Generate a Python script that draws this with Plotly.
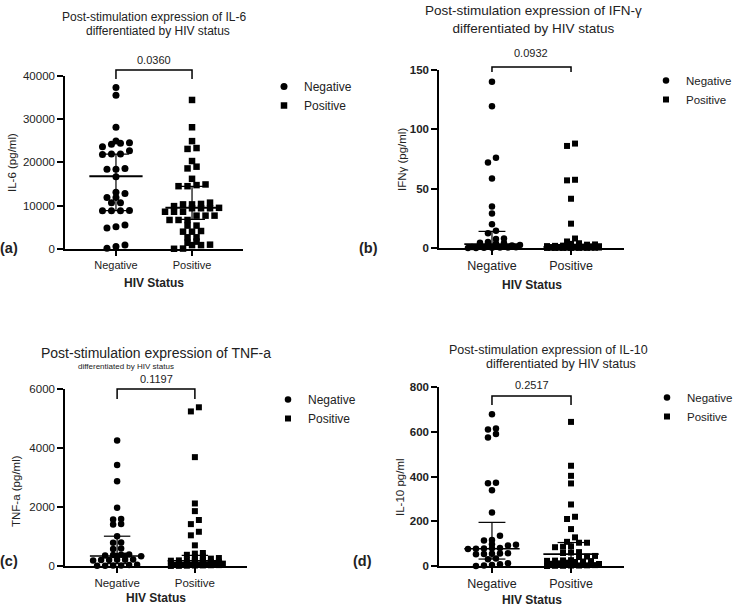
import numpy as np
import plotly.graph_objects as go

W, H = 734, 606
FONT = "Arial, Liberation Sans, sans-serif"

categories = ["Negative", "Positive"]

# values (pg/ml)
il6_neg = [37300, 35500, 28100, 24900, 24500, 24400, 24200, 23600, 22700, 21900, 21900, 21800,
           18600, 18400, 18400, 16700, 13100, 12800, 11900, 11900, 10700, 10700, 8900, 8850,
           8850, 8800, 5550, 5150, 4850, 900, 550, 150]
il6_pos = [34400, 28100, 24900, 23300, 23100, 20300, 19000, 18600, 16200, 14900, 14750, 14500,
           14500, 10700, 10400, 10300, 10300, 9900, 9500, 9400, 9400, 9400, 8600, 8600, 8600,
           7700, 7700, 7700, 6700, 6700, 6700, 5400, 5400, 4150, 4000, 4000, 2700, 2700, 1700,
           1450, 1000, 900, 900, 100, 50]
ifng_neg = [140, 119.5, 76, 72, 58.5, 35, 29, 20, 14.5, 12.5, 8, 7.5, 5, 4.5, 4.2, 3.8, 3.5, 3,
            2.6, 2.2, 1.8, 1.5, 1.2, 1, 0.8, 0.6, 0.5, 0.4, 0.3, 0.2, 0.1, 0.1]
ifng_pos = [88, 86, 57.5, 57, 41.5, 20.5, 8, 5.5, 4, 3.5, 3, 2.8, 2.5, 2.2, 2, 1.8, 1.6, 1.5, 1.4,
            1.2, 1.1, 1, 0.9, 0.8, 0.8, 0.7, 0.6, 0.6, 0.5, 0.5, 0.4, 0.4, 0.3, 0.3, 0.3, 0.2,
            0.2, 0.2, 0.2, 0.1, 0.1, 0.1, 0.1, 0.1, 0.1]
tnf_neg = [4250, 3420, 2870, 1975, 1590, 1580, 1420, 1410, 1010, 800, 790, 590, 580, 390, 380,
           370, 360, 350, 340, 330, 220, 210, 210, 200, 200, 190, 40, 30, 20, 15, 10, 5]
tnf_pos = [5380, 5240, 3690, 2120, 1860, 1560, 1420, 1160, 1040, 700, 440, 420, 380, 330, 300,
           270, 250, 230, 210, 200, 190, 180, 170, 160, 150, 140, 130, 120, 110, 100, 90, 80, 70,
           60, 50, 45, 40, 35, 30, 25, 20, 15, 10, 5, 2]
il10_neg = [678, 614, 610, 590, 574, 372, 370, 339, 239, 135, 116, 114, 97, 95, 92, 80, 79, 78,
            77, 76, 57, 56, 55, 54, 53, 34, 30, 12, 8, 5, 2, 0]
il10_pos = [644, 448, 403, 369, 275, 220, 210, 165, 128, 108, 104, 104, 88, 86, 84, 62, 60, 58,
            45, 42, 40, 26, 25, 24, 23, 22, 20, 18, 15, 12, 10, 9, 8, 8, 7, 6, 5, 4, 4, 3, 2, 2,
            1, 1, 0]

# median, Q1, Q3 as drawn
il6_stats = [(16800, 8850, 21900), (9500, 6850, 14450)]
ifng_stats = [(3.3, 0.4, 14), (0.8, 0.2, 2.5)]
tnf_stats = [(340, 80, 1010), (180, 60, 360)]
il10_stats = [(77, 31, 195), (53, 12, 105)]

p_values = ["0.0360", "0.0932", "0.1197", "0.2517"]
y_ticks = [[0, 10000, 20000, 30000, 40000], [0, 50, 100, 150], [0, 2000, 4000, 6000],
           [0, 200, 400, 600, 800]]
y_titles = ["IL-6 (pg/ml)", "IFNγ (pg/ml)", "TNF-a (pg/ml)", "IL-10 pg/ml"]
titles = [("Post-stimulation expression of IL-6", "differentiated by HIV status"),
          ("Post-stimulation expression of IFN-γ", "differentiated by HIV status"),
          ("Post-stimulation expression of TNF-a", "differentiated by HIV status"),
          ("Post-stimulation expression of IL-10", "differentiated by HIV status")]
labels = ["(a)", "(b)", "(c)", "(d)"]


def fx(px):
    return px / W


def fy(py):
    return 1 - py / H


# pixel layout of each panel (t2=None -> both title lines in one text)
panels = [
    dict(neg=il6_neg, pos=il6_pos, stats=il6_stats, xl=65, xr=243, yb=249, yt=75.7,
         br=(70, 79), pv=(154, 60), t1=(154, 17, 12), t2=(158, 31, 12), yt_pos=(12, 163),
         hiv=(154, 283), lab=(9, 248), leg=(264, 72, 12), bold=False, xfs=11, ms=7, sp=9),
    dict(neg=ifng_neg, pos=ifng_pos, stats=ifng_stats, xl=439, xr=624, yb=248, yt=70,
         br=(67, 72), pv=(531, 53), t1=(533, 19.5, 13.5), t2=None, yt_pos=(402, 160),
         hiv=(532, 285), lab=(368, 248), leg=(646, 66, 11.5), bold=True, xfs=12.5, ms=6.5, sp=8),
    dict(neg=tnf_neg, pos=tnf_pos, stats=tnf_stats, xl=65, xr=247, yb=566, yt=389,
         br=(389, 399), pv=(156, 379), t1=(156, 353, 14), t2=(126, 366, 8), yt_pos=(16, 491),
         hiv=(156, 598), lab=(9, 561), leg=(268, 385, 12), bold=False, xfs=11.5, ms=6.5, sp=8),
    dict(neg=il10_neg, pos=il10_pos, stats=il10_stats, xl=439, xr=624, yb=566, yt=387,
         br=(396, 405), pv=(532, 385), t1=(548, 350, 12.5), t2=(561, 364, 12.5), yt_pos=(400, 487),
         hiv=(532, 600), lab=(362, 561), leg=(647, 383, 11.5), bold=True, xfs=12.5, ms=6.5, sp=8),
]

XR = [-0.67, 1.67]


def swarm(values, ppu_y, ppu_x, spacing, row_px=5, max_row=7):
    vals = np.asarray(values, dtype=float)
    order = np.argsort(vals, kind="stable")
    rows, cur, start = [], [], None
    for i in order:
        yp = vals[i] * ppu_y
        if cur and yp - start < row_px:
            cur.append(i)
        else:
            if cur:
                rows.append(cur)
            cur, start = [i], yp
    rows.append(cur)
    off = np.zeros(len(vals))
    for row in rows:
        chunks = [row[k:k + max_row] for k in range(0, len(row), max_row)]
        for ci, ch in enumerate(chunks):
            n = len(ch)
            shift = 0.5 if (ci % 2 == 1 and n > 1) else 0
            for j, idx in enumerate(ch):
                off[idx] = (j - (n - 1) / 2 + shift) * spacing / ppu_x
    return off


fig = go.Figure()
annotations, shapes = [], []
layout = {}

for i, p in enumerate(panels):
    n = i + 1
    sx = "" if n == 1 else str(n)
    xa, ya = "x" + sx, "y" + sx
    legend_id = "legend" + sx
    ymax = y_ticks[i][-1]
    ppu_y = (p["yb"] - p["yt"]) / ymax
    ppu_x = (p["xr"] - p["xl"]) / (XR[1] - XR[0])
    tick_text = [f"<b>{v}</b>" if p["bold"] else str(v) for v in y_ticks[i]]

    for g, (vals, sym, name) in enumerate([(p["neg"], "circle", "Negative"),
                                           (p["pos"], "square", "Positive")]):
        off = swarm(vals, ppu_y, ppu_x, p["sp"])
        fig.add_trace(go.Scatter(
            x=g + off, y=vals, mode="markers", name=name, xaxis=xa, yaxis=ya,
            marker=dict(symbol=sym, size=p["ms"] if sym == "circle" else p["ms"] - 0.5,
                        color="black", line=dict(width=0)),
            cliponaxis=False, legend=legend_id, showlegend=True, hoverinfo="skip"))
        med, q1, q3 = p["stats"][g]
        fig.add_trace(go.Scatter(
            x=[g, g, None, g - 0.17, g + 0.17, None, g - 0.17, g + 0.17],
            y=[q1, q3, None, q1, q1, None, q3, q3], mode="lines",
            line=dict(color="black", width=1.2), xaxis=xa, yaxis=ya, showlegend=False,
            hoverinfo="skip", cliponaxis=False))
        fig.add_trace(go.Scatter(
            x=[g - 0.35, g + 0.35], y=[med, med], mode="lines",
            line=dict(color="black", width=2 if n == 1 else 1.6), xaxis=xa, yaxis=ya,
            showlegend=False, hoverinfo="skip", cliponaxis=False))

    layout["xaxis" + sx] = dict(
        domain=[fx(p["xl"]), fx(p["xr"])], range=XR, anchor=ya, tickvals=[0, 1],
        ticktext=categories, showline=True, linecolor="black", linewidth=1.5, ticks="outside",
        ticklen=5, tickwidth=1.5, tickcolor="black", showgrid=False, zeroline=False,
        automargin=False, tickfont=dict(size=p["xfs"], color="#222", family=FONT),
        fixedrange=True)
    layout["yaxis" + sx] = dict(
        domain=[fy(p["yb"]), fy(p["yt"])], range=[0, ymax], anchor=xa, tickvals=y_ticks[i],
        ticktext=tick_text, showline=True, linecolor="black", linewidth=1.5, ticks="outside",
        ticklen=6, tickwidth=1.5, tickcolor="black", showgrid=False, zeroline=False,
        automargin=False, tickfont=dict(size=11.5, color="#222", family=FONT), fixedrange=True)
    layout[legend_id] = dict(x=fx(p["leg"][0]), y=fy(p["leg"][1]), xanchor="left",
                             yanchor="top", font=dict(size=p["leg"][2], color="#222", family=FONT),
                             bgcolor="rgba(0,0,0,0)", tracegroupgap=0, borderwidth=0)

    # significance bracket
    x0d = (0 - XR[0]) / (XR[1] - XR[0])
    x1d = (1 - XR[0]) / (XR[1] - XR[0])
    ytop = (p["yb"] - p["br"][0]) / (p["yb"] - p["yt"])
    yend = (p["yb"] - p["br"][1]) / (p["yb"] - p["yt"])
    shapes.append(dict(type="path", xref=xa + " domain", yref=ya + " domain",
                       path=f"M {x0d},{yend} L {x0d},{ytop} L {x1d},{ytop} L {x1d},{yend}",
                       line=dict(color="black", width=1.5)))

    def txt(text, pos, size, bold=False, angle=0):
        annotations.append(dict(
            text=f"<b>{text}</b>" if bold else text, x=fx(pos[0]), y=fy(pos[1]),
            xref="paper", yref="paper", showarrow=False, xanchor="center", yanchor="middle",
            textangle=angle, font=dict(size=size, color="#222", family=FONT)))

    txt(p_values[i], p["pv"], 11)
    if p["t2"] is None:
        txt("<br>".join(titles[i]), p["t1"][:2], p["t1"][2])
    else:
        txt(titles[i][0], p["t1"][:2], p["t1"][2])
        txt(titles[i][1], p["t2"][:2], p["t2"][2])
    txt(y_titles[i], p["yt_pos"], 11.5, angle=-90)
    txt("HIV Status", p["hiv"], 12, bold=True)
    txt(labels[i], p["lab"], 14.5, bold=True)

fig.update_layout(
    template="none",
    width=W, height=H, margin=dict(l=0, r=0, t=0, b=0, pad=0, autoexpand=False),
    paper_bgcolor="white", plot_bgcolor="white",
    font=dict(family=FONT, color="#222"),
    annotations=annotations, shapes=shapes, **layout)

fig.write_html("out.html", config={"displayModeBar": False},
               post_script="document.body.style.margin='0px';")
